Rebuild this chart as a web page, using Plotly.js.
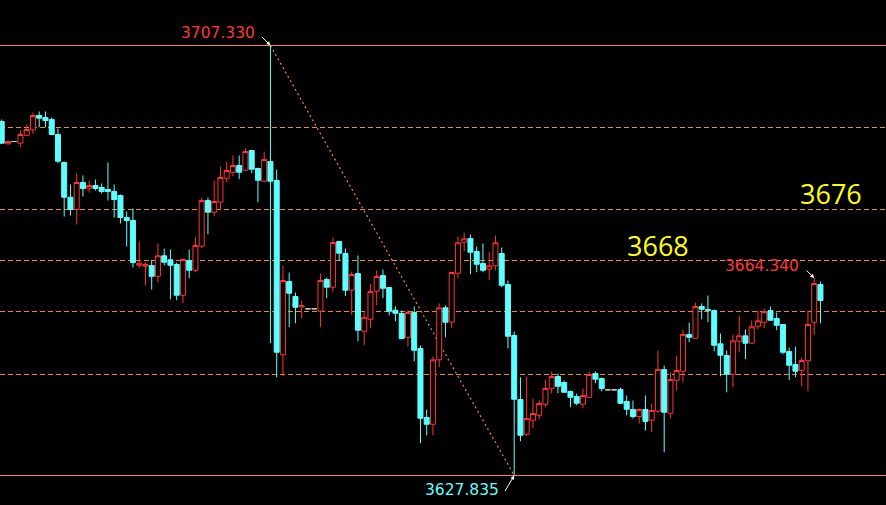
<!DOCTYPE html>
<html>
<head>
<meta charset="utf-8">
<script src="https://cdn.plot.ly/plotly-3.0.1.min.js"></script>
<style>
html,body{margin:0;padding:0;background:#000;}
#chart{width:886px;height:505px;}
</style>
</head>
<body>
<div id="chart"></div>
<script>
// OHLC values (one bar per period, left to right)
const open = [3693.28,3689.15,3689.58,3689.27,3690.74,3691.74,3694.39,3694.02,3693.65,3690.87,
3685.70,3679.28,3677.01,3682.00,3680.94,3681.44,3681.07,3680.70,3680.33,3679.59,
3675.53,3674.97,3666.71,3666.52,3666.65,3664.67,3668.45,3667.71,3666.84,3661.16,
3667.58,3665.78,3670.22,3678.67,3676.51,3678.36,3682.79,3683.90,3685.14,3684.27,
3687.92,3684.59,3682.24,3685.88,3682.37,3650.14,3663.69,3660.92,3659.02,3658.65,
3658.65,3658.20,3664.06,3662.64,3671.09,3668.87,3662.09,3665.17,3654.50,3656.72,
3661.90,3664.80,3662.58,3658.39,3657.78,3653.39,3657.96,3651.31,3638.55,3637.31,
3649.22,3658.83,3656.17,3665.23,3670.96,3671.64,3669.24,3667.02,3665.97,3666.60,
3668.87,3663.14,3653.71,3641.88,3635.46,3638.05,3638.97,3641.01,3643.96,3646.13,
3645.02,3643.35,3642.43,3641.01,3642.30,3646.68,3645.76,3643.67,3643.67,3643.72,
3641.51,3640.03,3638.73,3640.03,3638.05,3639.71,3647.42,3639.34,3645.44,3647.11,
3653.89,3653.21,3659.07,3658.52,3658.33,3652.17,3650.01,3646.55,3652.66,3653.65,
3652.29,3655.43,3656.17,3658.33,3656.85,3655.74,3650.75,3648.35,3647.29,3649.04,
3656.17,3663.14];
const high = [3693.65,3689.76,3689.62,3691.61,3692.72,3694.94,3695.13,3695.13,3694.02,3691.98,
3685.88,3681.63,3683.66,3683.29,3682.37,3682.55,3681.81,3685.70,3681.63,3679.78,
3676.64,3677.19,3671.09,3667.26,3667.71,3670.72,3669.80,3669.61,3667.21,3668.00,
3669.61,3671.83,3679.23,3679.23,3682.37,3684.96,3685.88,3686.99,3686.99,3688.29,
3688.05,3684.77,3687.73,3707.33,3684.40,3666.65,3665.36,3661.66,3660.18,3658.70,
3658.70,3665.17,3664.43,3671.83,3671.20,3669.80,3665.54,3668.50,3658.02,3663.32,
3665.73,3665.91,3662.70,3659.13,3658.33,3658.33,3659.07,3651.86,3640.03,3649.83,
3659.63,3659.26,3665.54,3672.01,3672.75,3672.38,3670.17,3670.72,3669.24,3672.20,
3669.98,3663.88,3654.45,3646.00,3646.13,3642.06,3641.69,3645.57,3647.05,3646.68,
3645.39,3643.54,3642.98,3643.91,3647.05,3647.05,3645.94,3643.72,3643.72,3644.09,
3642.61,3641.69,3640.21,3642.61,3641.14,3650.94,3648.16,3646.87,3650.01,3654.82,
3656.11,3659.81,3659.63,3661.10,3658.52,3654.08,3650.94,3653.89,3657.41,3654.82,
3656.48,3658.33,3658.70,3659.07,3657.96,3655.85,3651.49,3651.68,3649.64,3658.33,
3664.34,3663.69];
const low = [3689.20,3689.02,3689.54,3688.53,3690.60,3691.00,3692.22,3692.22,3690.75,3685.57,
3675.71,3675.90,3674.23,3679.41,3680.15,3680.52,3679.96,3678.67,3675.53,3674.42,
3670.17,3666.28,3666.23,3662.95,3662.21,3663.56,3666.71,3660.42,3660.24,3659.68,
3664.30,3665.41,3669.85,3672.44,3675.77,3676.88,3682.05,3683.16,3682.61,3684.10,
3683.72,3678.36,3682.10,3652.29,3646.00,3646.18,3655.24,3655.98,3656.91,3658.60,
3658.60,3655.24,3660.61,3661.72,3667.58,3660.98,3657.54,3652.66,3651.92,3655.06,
3659.31,3660.61,3657.46,3656.35,3653.00,3651.68,3648.96,3633.80,3635.27,3635.27,
3647.85,3653.39,3655.06,3664.30,3669.30,3665.04,3665.41,3665.41,3663.93,3665.78,
3662.64,3651.36,3627.835,3634.17,3635.09,3636.57,3638.23,3640.45,3643.04,3643.04,
3643.10,3640.45,3640.82,3640.27,3642.20,3644.89,3643.41,3643.62,3643.62,3641.05,
3638.97,3638.36,3637.44,3636.14,3635.83,3639.34,3632.13,3638.42,3643.54,3645.07,
3652.47,3653.10,3656.72,3656.17,3650.81,3646.18,3643.22,3644.15,3650.62,3649.33,
3652.20,3654.87,3655.06,3656.45,3654.69,3650.25,3645.44,3646.00,3644.33,3643.41,
3653.76,3655.98];
const close = [3689.27,3689.58,3689.58,3690.87,3691.80,3694.39,3693.89,3693.46,3690.87,3685.94,
3679.28,3677.01,3682.00,3680.89,3681.44,3680.89,3680.33,3680.33,3678.86,3675.53,
3674.97,3667.21,3667.08,3666.84,3664.67,3668.45,3667.26,3666.71,3661.16,3667.76,
3665.78,3670.35,3678.67,3676.51,3678.49,3682.92,3684.22,3685.14,3683.90,3687.73,
3684.46,3682.42,3686.25,3682.24,3650.62,3663.88,3661.53,3658.94,3659.20,3658.65,
3658.65,3663.88,3662.64,3670.90,3668.93,3662.09,3664.99,3654.69,3657.09,3661.84,
3664.62,3662.45,3658.20,3657.83,3653.15,3657.96,3650.99,3638.42,3637.31,3649.22,
3658.83,3656.17,3665.36,3670.85,3671.59,3669.11,3666.89,3665.78,3666.60,3670.85,
3663.01,3653.58,3641.93,3635.27,3638.36,3639.29,3641.14,3643.91,3646.13,3644.33,
3643.22,3642.30,3641.19,3642.61,3646.50,3645.63,3643.91,3643.67,3643.67,3641.19,
3640.08,3638.73,3640.03,3637.81,3639.84,3647.42,3639.53,3645.57,3647.24,3653.89,
3653.39,3659.07,3658.57,3658.39,3651.92,3650.07,3646.55,3652.73,3653.65,3652.29,
3655.32,3656.43,3658.15,3656.54,3655.61,3650.62,3648.22,3647.11,3649.09,3655.74,
3663.32,3660.18];

// horizontal price levels
const solidLevels = [3707.33, 3627.835];
const dashedLevels = [3692.17, 3677.01, 3667.58, 3658.15, 3646.51];
// marked extremes: [bar index, price, label]
const markHigh = [43, 3707.33, "3707.330"];
const markLow = [82, 3627.835, "3627.835"];
const markLast = [130, 3664.34, "3664.340"];
// yellow level labels
const levelLabels = ["3676", "3668"];

const x = open.map((_, i) => i);
const isDoji = open.map((o, i) => o === close[i]);
const pick = (arr, want) => arr.map((v, i) => (isDoji[i] === want ? v : null));

const CYAN = "#5effff", RED = "#ff3434", ORANGE = "#f58a1c";

const main = {
  type: "candlestick", x: x,
  open: pick(open, false), high: pick(high, false), low: pick(low, false), close: pick(close, false),
  increasing: {line: {color: RED, width: 1}, fillcolor: "#000000"},
  decreasing: {line: {color: CYAN, width: 1}, fillcolor: CYAN},
  whiskerwidth: 0, hoverinfo: "skip", showlegend: false
};
const doji = {
  type: "candlestick", x: x,
  open: pick(open, true), high: pick(high, true), low: pick(low, true), close: pick(close, true),
  increasing: {line: {color: "#c8c8c8", width: 1}, fillcolor: "#c8c8c8"},
  decreasing: {line: {color: "#c8c8c8", width: 1}, fillcolor: "#c8c8c8"},
  whiskerwidth: 0, hoverinfo: "skip", showlegend: false
};

const shapes = [];
solidLevels.forEach(v => shapes.push({type: "line", xref: "paper", x0: 0, x1: 1, yref: "y", y0: v, y1: v,
  line: {color: ORANGE, width: 1}, layer: "below"}));
dashedLevels.forEach(v => shapes.push({type: "line", xref: "paper", x0: 0, x1: 1, yref: "y", y0: v, y1: v,
  line: {color: ORANGE, width: 1, dash: "5px,3px"}, layer: "below"}));
shapes.push({type: "line", xref: "x", yref: "y", x0: markHigh[0], y0: markHigh[1], x1: markLow[0], y1: markLow[1],
  line: {color: ORANGE, width: 1.2, dash: "2px,3px"}, layer: "below"});

const lblFont = (c) => ({family: "DejaVu Sans", size: 15.5, color: c});
const bigFont = {family: "Open Sans", size: 27, color: "#ffff00"};
const label = (px, py, text, font) => ({xref: "paper", yref: "paper", x: px / 886, y: 1 - py / 505,
  xanchor: "center", yanchor: "middle", text: text, showarrow: false, font: font});
const arrow = (m, ax, ay) => ({x: m[0], y: m[1], xref: "x", yref: "y", text: "", showarrow: true,
  ax: ax, ay: ay, arrowcolor: "#ffffff", arrowwidth: 1, arrowhead: 2, arrowsize: 0.8, standoff: 0, startstandoff: 0});

const annotations = [
  label(218, 32.5, markHigh[2], lblFont(RED)),
  label(461.7, 489.7, markLow[2], lblFont(CYAN)),
  label(761.7, 266, markLast[2], lblFont(RED)),
  label(831.3, 193, levelLabels[0], bigFont),
  label(658, 245, levelLabels[1], bigFont),
  arrow(markHigh, -10, -10),
  arrow(markLow, -10, 17),
  arrow(markLast, -9, -9)
];

const layout = {
  width: 886, height: 505,
  margin: {l: 0, r: 0, t: 0, b: 0, pad: 0},
  paper_bgcolor: "#000000", plot_bgcolor: "#000000",
  showlegend: false, hovermode: false,
  boxgap: 0.2, boxgroupgap: 0,
  xaxis: {range: [-0.272, 141.49], visible: false, showgrid: false, zeroline: false, fixedrange: true,
    rangeslider: {visible: false}},
  yaxis: {range: [3622.38, 3715.742], visible: false, showgrid: false, zeroline: false, fixedrange: true},
  shapes: shapes,
  annotations: annotations
};

Plotly.newPlot("chart", [main, doji], layout, {displayModeBar: false, staticPlot: true});
</script>
</body>
</html>
